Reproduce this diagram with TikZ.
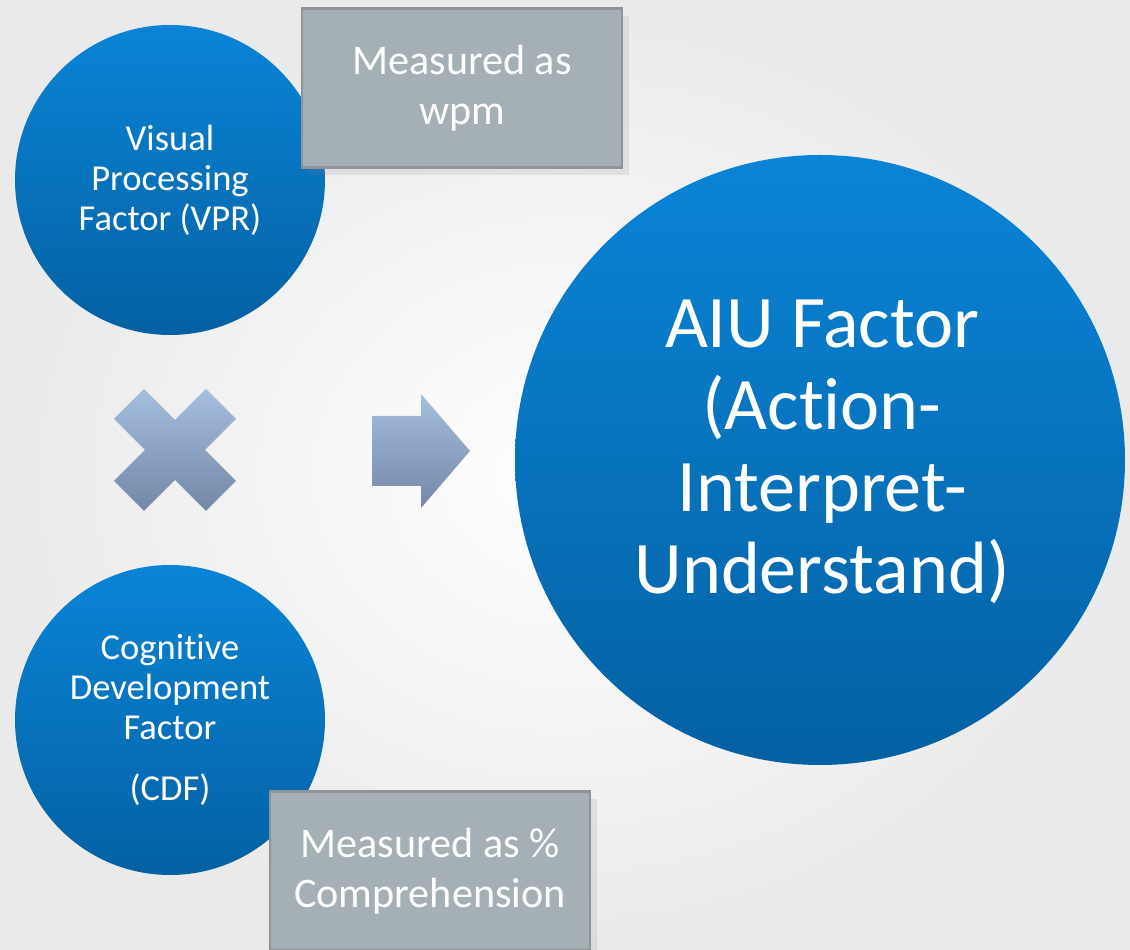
\documentclass[tikz,border=0pt]{standalone}
\usepackage{fontspec}
\setmainfont{Carlito}[Ligatures={NoCommon,NoRare,NoContextual}]
\usetikzlibrary{shadows}

\definecolor{factortop}{HTML}{0A84D6}
\definecolor{factorbot}{HTML}{0461A3}
\definecolor{notefill}{HTML}{A4AFB6}
\definecolor{noteline}{HTML}{8F9396}
\definecolor{signtop}{HTML}{A5BEDF}
\definecolor{signbot}{HTML}{7487A6}
\definecolor{paper}{HTML}{EAEAEA}

\tikzset{
    factor/.style={circle,
        top color=factortop,
        bottom color=factorbot,
        text=white,
        align=center,
        inner sep=0pt},
    note/.style={rectangle,
        fill=notefill,
        draw=noteline,
        line width=0.8pt,
        text=white,
        align=center,
        minimum width=32mm,
        minimum height=15.9mm,
        font=\fontsize{12}{14.2}\selectfont,
        drop shadow={opacity=0.15, shadow xshift=2pt, shadow yshift=-2pt}},
    sign/.style={top color=signtop,
        bottom color=signbot,
        draw=none}
}

\begin{document}
\begin{tikzpicture}[x=0.1mm, y=-0.1mm]
    % Page
    \useasboundingbox (0,0) rectangle (1130,950);
    \shade [inner color=white, outer color=paper] (0,0) rectangle (1130,950);

    % Visual processing factor
    \node [factor,
        minimum size=31mm,
        font=\fontsize{10.4}{11.4}\selectfont]
        (VPR) at (170,180) {Visual\\Processing\\Factor (VPR)};

    % Note on VPR
    \node [note] (wpm) at (462,88) {Measured as\\wpm};

    % Cognitive development factor
    \node [factor,
        minimum size=31mm,
        font=\fontsize{10.4}{11.4}\selectfont]
        (CDF) at (170,720) {Cognitive\\Development\\Factor\\[6pt](CDF)};

    % Note on CDF
    \node [note] (pct) at (430,871) {Measured as \%\\Comprehension};

    % Result
    \node [factor,
        minimum size=61mm,
        label={[text=white, align=center, xshift=0.2mm, yshift=0.8mm,
            font=\fontsize{21.1}{23.3}\selectfont]center:AIU Factor\\(Action-\\Interpret-\\Understand)}]
        (AIU) at (820,460) {};

    % Times sign
    \path [sign] (144,389) -- (175,420) -- (206,389) -- (236,419)
        -- (205,450) -- (236,481) -- (206,511) -- (175,480)
        -- (144,511) -- (114,481) -- (145,450) -- (114,419) -- cycle;

    % Arrow
    \path [sign] (372,416) -- (421,416) -- (421,394) -- (470,451)
        -- (421,508) -- (421,486) -- (372,486) -- cycle;
\end{tikzpicture}
\end{document}
